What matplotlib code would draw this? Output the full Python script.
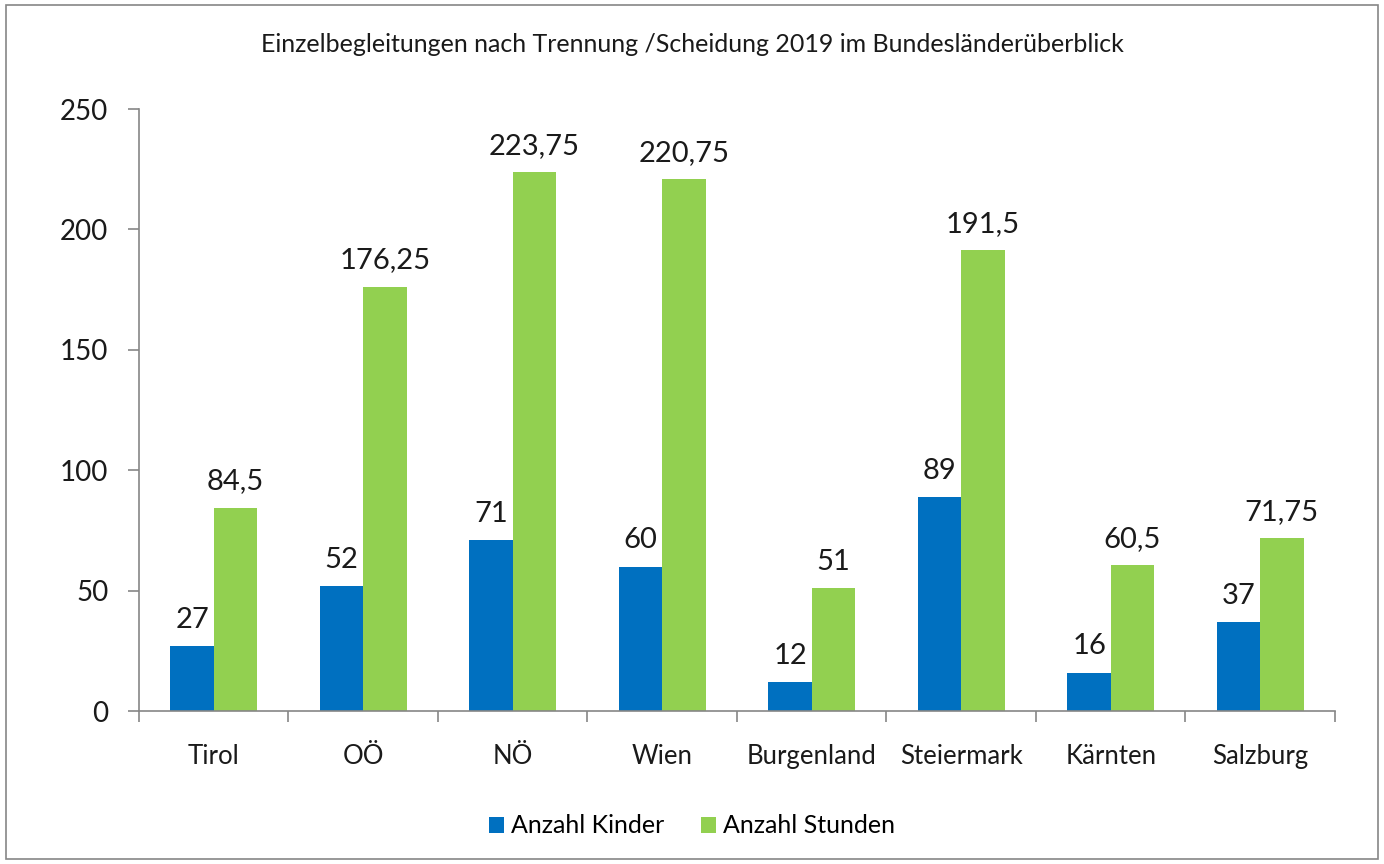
import numpy as np
import matplotlib
matplotlib.use("Agg")
import matplotlib.pyplot as plt
from matplotlib.patches import Rectangle

plt.rcParams['font.family'] = ['Lato', 'DejaVu Sans']

laender = ['Tirol', 'OÖ', 'NÖ', 'Wien', 'Burgenland', 'Steiermark', 'Kärnten', 'Salzburg']
kinder = [27, 52, 71, 60, 12, 89, 16, 37]
stunden = [84.5, 176.25, 223.75, 220.75, 51, 191.5, 60.5, 71.75]
kinder_labels = ['27', '52', '71', '60', '12', '89', '16', '37']
stunden_labels = ['84,5', '176,25', '223,75', '220,75', '51', '191,5', '60,5', '71,75']

blue = '#0070C0'
green = '#92D050'
grey = '#868686'

fig = plt.figure(figsize=(13.84, 8.64), dpi=100)
ax = fig.add_axes([0.1004, 0.177, 0.8642, 0.6968])

x = np.arange(len(laender))
w = 0.29
b1 = ax.bar(x - w / 2, kinder, w, color=blue, label='Anzahl Kinder')
b2 = ax.bar(x + w / 2, stunden, w, color=green, label='Anzahl Stunden')

for rect, txt in zip(b1, kinder_labels):
    ax.text(rect.get_x() + rect.get_width() / 2, rect.get_height() + 5.5, txt,
            ha='center', va='bottom', fontsize=21, color='#1a1a1a')
for rect, txt in zip(b2, stunden_labels):
    ax.text(rect.get_x() + rect.get_width() / 2, rect.get_height() + 5.5, txt,
            ha='center', va='bottom', fontsize=21, color='#1a1a1a')

ax.set_xlim(-0.5, len(laender) - 0.5)
ax.set_ylim(0, 250)
ax.set_yticks(np.arange(0, 251, 50))
ax.tick_params(axis='y', labelsize=20, length=8, width=1.2, color=grey, pad=14,
               labelcolor='#1a1a1a')

# category labels, tick marks between categories
ax.set_xticks(x)
ax.set_xticklabels(laender, fontsize=18.5, color='#1a1a1a')
ax.tick_params(axis='x', length=0, pad=24)
ax.set_xticks(np.arange(-0.5, len(laender)), minor=True)
ax.tick_params(axis='x', which='minor', length=8, width=1.2, color=grey, direction='out')

for s in ['top', 'right']:
    ax.spines[s].set_visible(False)
for s in ['left', 'bottom']:
    ax.spines[s].set_color(grey)
    ax.spines[s].set_linewidth(1.2)

fig.text(0.5, 0.949, 'Einzelbegleitungen nach Trennung /Scheidung 2019 im Bundesländerüberblick',
         ha='center', va='center', fontsize=18, color='#1a1a1a')

fig.legend(handles=[b1, b2], loc='center', bbox_to_anchor=(0.5, 0.044), ncol=2,
           frameon=False, fontsize=18, handlelength=0.6, handleheight=0.6,
           handletextpad=0.25, columnspacing=1.5)

fig.patches.append(Rectangle((0.004, 0.006), 0.992, 0.988, transform=fig.transFigure,
                             fill=False, edgecolor=grey, linewidth=1.2))

fig.savefig('out.png', dpi=100)
